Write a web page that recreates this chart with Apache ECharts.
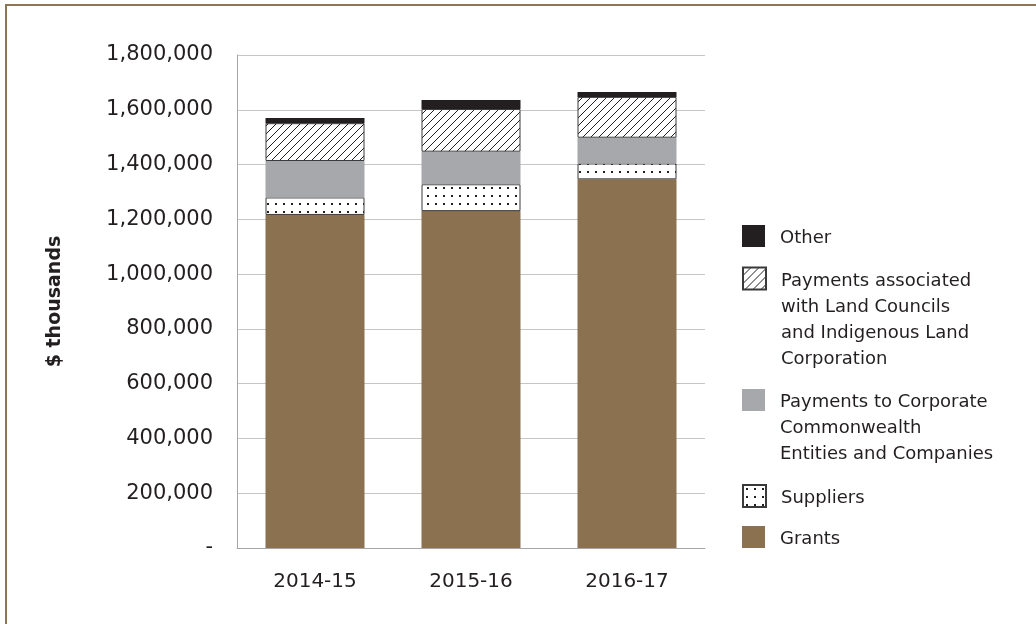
<!DOCTYPE html>
<html>
<head>
<meta charset="utf-8">
<style>
  html, body { margin: 0; padding: 0; background: #fff; }
  #frame { position: absolute; left: 5px; top: 4px; right: 0; bottom: 0;
           border-left: 2px solid #8d7657; border-top: 2px solid #8d7657; }
  #chart { position: absolute; left: 0; top: 0; width: 1036px; height: 624px; }
</style>
<script src="https://cdn.jsdelivr.net/npm/echarts@6/dist/echarts.min.js"></script>
</head>
<body>
<div id="frame"></div>
<div id="chart"></div>
<script>
// Financial years on the category axis
const categories = ['2014-15', '2015-16', '2016-17'];

// Expenses by type, $ thousands
const grants       = [1216000, 1230000, 1346000];
const suppliers    = [64000, 98000, 58000];
const corporate    = [133000, 119000, 94000];
const landCouncils = [138000, 156000, 149000];
const other        = [19000, 33000, 18000];

// Value axis ticks
const yMin = 0;
const yMax = 1800000;
const yStep = 200000;

// Series names and their legend line breaks
const nameGrants = 'Grants';
const nameSuppliers = 'Suppliers';
const nameCorporate = 'Payments to Corporate Commonwealth Entities and Companies';
const nameLand = 'Payments associated with Land Councils and Indigenous Land Corporation';
const nameOther = 'Other';
const linesCorporate = ['Payments to Corporate', 'Commonwealth', 'Entities and Companies'];
const linesLand = ['Payments associated', 'with Land Councils', 'and Indigenous Land', 'Corporation'];

const INK = '#231f20';
const FONT = '"DejaVu Sans", sans-serif';

// Fill patterns: diagonal hatching and a dot screen
function hatchTile(size) {
  const c = document.createElement('canvas');
  c.width = c.height = size;
  const g = c.getContext('2d');
  g.fillStyle = '#fff';
  g.fillRect(0, 0, size, size);
  g.strokeStyle = INK;
  g.lineWidth = 1;
  g.beginPath();
  g.moveTo(-1, size + 1); g.lineTo(size + 1, -1);
  g.moveTo(-1, 1); g.lineTo(1, -1);
  g.moveTo(size - 1, size + 1); g.lineTo(size + 1, size - 1);
  g.stroke();
  return c;
}
function dotTile(size, dot) {
  const c = document.createElement('canvas');
  c.width = c.height = size;
  const g = c.getContext('2d');
  g.fillStyle = '#fff';
  g.fillRect(0, 0, size, size);
  g.fillStyle = INK;
  const o = (size - dot) / 2;
  g.fillRect(o, o, dot, dot);
  return c;
}
const hatchFill = { image: hatchTile(8), repeat: 'repeat' };
const dotFill = { image: dotTile(8, 2), repeat: 'repeat' };

function fmtThousands(v) {
  if (v === 0) return '-';
  return v.toString().replace(/\B(?=(\d{3})+(?!\d))/g, ',');
}

const LH = 26;     // legend line height
const NUDGE = 5;   // small spacer line that lowers the legend text a little

// One legend block per series. Blank lines above the text keep the block
// centred on its first line, so each icon sits beside that line.
function legendBlock(name, lines, iconCenterY) {
  const n = lines.length;
  const padded = new Array(n - 1).fill('').concat(lines);
  const body = padded.map(s => '{g| }{t|' + (s || ' ') + '}');
  const blockH = (2 * n - 1) * LH + NUDGE;
  return {
    data: [name],
    left: 742,
    top: iconCenterY - blockH / 2,
    padding: 0,
    orient: 'vertical',
    icon: 'rect',
    itemWidth: 23,
    itemHeight: 22,
    itemGap: 0,
    selectedMode: false,
    formatter: () => ['{s| }'].concat(body).join('\n'),
    textStyle: {
      fontSize: 18, lineHeight: LH, color: INK, fontFamily: FONT,
      rich: {
        s: { fontSize: 2, lineHeight: NUDGE, height: NUDGE },
        g: { width: 10, fontSize: 18, lineHeight: LH },
        t: { fontSize: 18, lineHeight: LH, color: INK, fontFamily: FONT }
      }
    }
  };
}

const barWidth = 99;
function stackSeries(name, data, itemStyle) {
  return { name, type: 'bar', stack: 'total', data, barWidth, itemStyle,
           emphasis: { disabled: true } };
}

const chart = echarts.init(document.getElementById('chart'), null, { renderer: 'canvas' });
chart.setOption({
  animation: false,
  textStyle: { fontFamily: FONT },
  grid: { left: 237, right: 331, top: 55, bottom: 76, containLabel: false },
  xAxis: {
    type: 'category',
    data: categories,
    axisLine: { show: true, lineStyle: { color: '#a6a6a6', width: 1 } },
    axisTick: { show: false },
    axisLabel: { margin: 24, fontSize: 20, color: INK, fontFamily: FONT }
  },
  yAxis: {
    type: 'value',
    min: yMin, max: yMax, interval: yStep,
    name: '$ thousands',
    nameLocation: 'middle',
    nameGap: 172,
    nameTextStyle: { fontSize: 19, fontWeight: 'bold', color: INK, fontFamily: FONT },
    axisLine: { show: true, lineStyle: { color: '#a6a6a6', width: 1 } },
    axisTick: { show: false },
    splitLine: { lineStyle: { color: '#c6c6c6', width: 1 } },
    axisLabel: { margin: 24, fontSize: 21, color: INK, fontFamily: FONT, formatter: fmtThousands }
  },
  legend: [
    legendBlock(nameOther, [nameOther], 236),
    legendBlock(nameLand, linesLand, 278.5),
    legendBlock(nameCorporate, linesCorporate, 400),
    legendBlock(nameSuppliers, [nameSuppliers], 496),
    legendBlock(nameGrants, [nameGrants], 537)
  ],
  series: [
    stackSeries(nameGrants, grants, { color: '#8b7150' }),
    stackSeries(nameSuppliers, suppliers, { color: dotFill, borderColor: '#3a3a3a', borderWidth: 1 }),
    stackSeries(nameCorporate, corporate, { color: '#a7a8ab' }),
    stackSeries(nameLand, landCouncils, { color: hatchFill, borderColor: '#3a3a3a', borderWidth: 1 }),
    stackSeries(nameOther, other, { color: INK })
  ]
});
</script>
</body>
</html>
